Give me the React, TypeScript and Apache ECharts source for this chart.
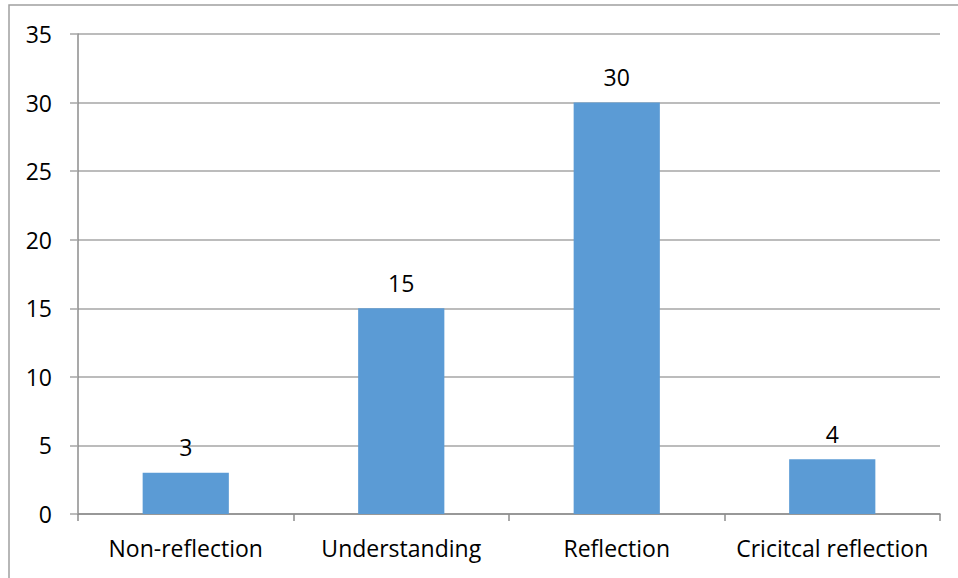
import React, { useEffect, useRef } from "react";
import * as echarts from "echarts";

const categories = ["Non-reflection", "Understanding", "Reflection", "Cricitcal reflection"];
const counts = [3, 15, 30, 4];
const yTicks = { min: 0, max: 35, interval: 5 };

const FONT = "'Open Sans', 'Noto Sans', sans-serif";
const FONT_SIZE = 23;

export default function App() {
  const ref = useRef<HTMLDivElement>(null);

  useEffect(() => {
    if (!ref.current) return;
    const chart = echarts.init(ref.current, undefined, { renderer: "svg" });
    chart.setOption({
      animation: false,
      backgroundColor: "#ffffff",
      graphic: [
        {
          type: "rect",
          shape: { x: 9, y: 5, width: 1000, height: 700 },
          style: { fill: "none", stroke: "#a0a0a0", lineWidth: 1.5 },
          silent: true,
          z: -1,
        },
      ],
      grid: { left: 78, right: 18, top: 34, bottom: 64 },
      xAxis: {
        type: "category",
        data: categories,
        axisLine: { lineStyle: { color: "#8c8c8c", width: 1.5 } },
        axisTick: { show: true, interval: 0, length: 7, lineStyle: { color: "#8c8c8c", width: 1.5 } },
        axisLabel: {
          interval: 0,
          hideOverlap: false,
          color: "#000",
          fontFamily: FONT,
          fontSize: FONT_SIZE,
          margin: 22,
        },
      },
      yAxis: {
        type: "value",
        min: yTicks.min,
        max: yTicks.max,
        interval: yTicks.interval,
        axisLine: { show: true, lineStyle: { color: "#8c8c8c", width: 1.5 } },
        axisTick: { show: true, length: 8, lineStyle: { color: "#a6a6a6", width: 1.5 } },
        splitLine: { show: true, lineStyle: { color: "#a6a6a6", width: 1.5 } },
        axisLabel: { color: "#000", fontFamily: FONT, fontSize: FONT_SIZE, margin: 26 },
      },
      series: [
        {
          type: "bar",
          data: counts,
          barWidth: "40%",
          itemStyle: { color: "#5b9bd5" },
          label: {
            show: true,
            position: "top",
            distance: 14,
            color: "#000",
            fontFamily: FONT,
            fontSize: FONT_SIZE,
          },
        },
      ],
    });
    return () => chart.dispose();
  }, []);

  return (
    <div
      ref={ref}
      style={{ position: "fixed", left: 0, top: 0, width: 958, height: 578 }}
    />
  );
}
